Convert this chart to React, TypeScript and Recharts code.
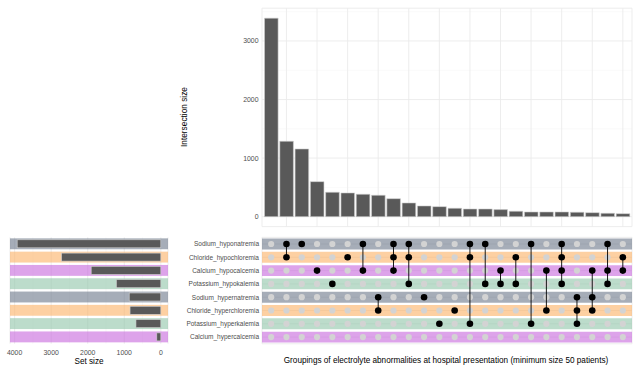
import React from 'react';
import {
  BarChart, Bar, XAxis, YAxis, CartesianGrid, ScatterChart, Scatter, ReferenceArea,
} from 'recharts';

// ---------- data ----------
const setNames = [
  'Sodium_hyponatremia',
  'Chloride_hypochloremia',
  'Calcium_hypocalcemia',
  'Potassium_hypokalemia',
  'Sodium_hypernatremia',
  'Chloride_hyperchloremia',
  'Potassium_hyperkalemia',
  'Calcium_hypercalcemia',
];
const setSizes = [3930, 2715, 1905, 1215, 865, 842, 680, 110];
const setColors = ['#6b7689', '#fcb164', '#c666dc', '#8fc5a8', '#6b7689', '#fcb164', '#8fc5a8', '#c666dc'];

const intersectionSizes = [3390, 1287, 1156, 598, 416, 405, 382, 365, 307, 234, 183, 171, 143, 131, 131, 120, 92, 80, 80, 80, 75, 68, 57, 51];
const intersectionMembers: string[][] = [
  [],
  ['Sodium_hyponatremia', 'Chloride_hypochloremia'],
  ['Sodium_hyponatremia'],
  ['Calcium_hypocalcemia'],
  ['Potassium_hypokalemia'],
  ['Chloride_hypochloremia'],
  ['Sodium_hyponatremia', 'Calcium_hypocalcemia'],
  ['Sodium_hypernatremia', 'Chloride_hyperchloremia'],
  ['Sodium_hyponatremia', 'Chloride_hypochloremia', 'Calcium_hypocalcemia'],
  ['Sodium_hyponatremia', 'Chloride_hypochloremia', 'Potassium_hypokalemia'],
  ['Sodium_hypernatremia'],
  ['Potassium_hyperkalemia'],
  ['Chloride_hyperchloremia'],
  ['Sodium_hyponatremia', 'Chloride_hypochloremia', 'Potassium_hyperkalemia'],
  ['Sodium_hyponatremia', 'Potassium_hypokalemia'],
  ['Calcium_hypocalcemia', 'Potassium_hypokalemia'],
  ['Chloride_hypochloremia', 'Potassium_hypokalemia'],
  ['Sodium_hyponatremia', 'Potassium_hyperkalemia'],
  ['Calcium_hypocalcemia', 'Chloride_hyperchloremia'],
  ['Sodium_hyponatremia', 'Chloride_hypochloremia', 'Calcium_hypocalcemia', 'Potassium_hypokalemia'],
  ['Sodium_hypernatremia', 'Chloride_hyperchloremia', 'Potassium_hyperkalemia'],
  ['Calcium_hypocalcemia', 'Sodium_hypernatremia', 'Chloride_hyperchloremia'],
  ['Sodium_hyponatremia', 'Calcium_hypocalcemia', 'Potassium_hypokalemia'],
  ['Chloride_hypochloremia', 'Calcium_hypocalcemia'],
];
const intersectionTicks = [0, 1000, 2000, 3000];
const intersectionMinorTicks = [500, 1500, 2500, 3500];
const setSizeTicks = [4000, 3000, 2000, 1000, 0];
const setSizeMinorTicks = [3500, 2500, 1500, 500];

const FONT = '"Liberation Sans", Arial, Helvetica, sans-serif';
const TICK_GREY = '#4d4d4d';

// ---------- derived tables ----------
const topData = intersectionSizes.map((v, i) => ({ id: 'I' + (i + 1), size: v }));
const setData = setNames.map((n, i) => ({ name: n, size: setSizes[i] }));
const colIdx = intersectionSizes.map((_, i) => i);
const rowIdx = setNames.map((_, i) => i);
const emptyCells: { x: number; y: number }[] = [];
colIdx.forEach((c) => {
  rowIdx.forEach((r) => {
    if (!intersectionMembers[c].includes(setNames[r])) emptyCells.push({ x: c, y: r });
  });
});
const memberCols = colIdx.map((c) =>
  intersectionMembers[c]
    .map((n) => setNames.indexOf(n))
    .sort((a, b) => a - b)
    .map((r) => ({ x: c, y: r }))
);

const GreyDot = (p: any) => <circle cx={p.cx} cy={p.cy} r={3.1} fill="#d3d3d3" />;
const BlackDot = (p: any) => <circle cx={p.cx} cy={p.cy} r={3.3} fill="#000000" />;

const SetBar = (p: any) => {
  const x = Math.min(p.x, p.x + p.width);
  const w = Math.abs(p.width);
  const h = 8;
  const y = Math.min(p.y, p.y + p.height) + (Math.abs(p.height) - h) / 2;
  return <rect x={x} y={y} width={w} height={h} fill="#595959" stroke="#cfcfcf" strokeWidth={0.6} />;
};
const SetBand = (p: any) => (
  <rect x={p.x} y={p.y} width={p.width} height={p.height} fill={setColors[p.index]} fillOpacity={0.6} />
);

export default function App() {
  return (
    <div style={{ position: 'absolute', left: 0, top: 0, width: 640, height: 373, background: '#fff', fontFamily: FONT }}>
      {/* Intersection size bars */}
      <div style={{ position: 'absolute', left: 0, top: 0 }}>
        <BarChart width={640} height={240} data={topData} margin={{ top: 8.2, right: 8, bottom: 13.4, left: 182 }}>
          <CartesianGrid stroke="#f4f4f4" strokeWidth={0.5} vertical={false} horizontalValues={intersectionMinorTicks} />
          <CartesianGrid stroke="#ebebeb" strokeWidth={0.9} />
          <XAxis dataKey="id" hide padding={{ left: 1.5, right: 1.5 }} />
          <YAxis
            type="number"
            domain={[-170, 3560]}
            allowDataOverflow
            ticks={intersectionTicks}
            width={80}
            axisLine={false}
            tickLine={false}
            tickSize={0}
            tickMargin={3.5}
            interval={0}
            tick={{ fontSize: 6.9, fill: TICK_GREY, fontFamily: FONT }}
            label={{
              content: (lp: any) => {
                const vb = lp.viewBox || {};
                const cy = 117;
                return (
                  <text x={187} y={cy} transform={`rotate(-90 187 ${cy})`} textAnchor="middle" fontSize={8.3} fill="#000" fontFamily={FONT}>
                    Intersection size
                  </text>
                );
              },
            }}
          />
          <Bar dataKey="size" fill="#595959" stroke="#cfcfcf" strokeWidth={0.6} barSize={13.6} isAnimationActive={false} />
        </BarChart>
      </div>

      {/* Set size bars */}
      <div style={{ position: 'absolute', left: 0, top: 230 }}>
        <BarChart layout="vertical" width={180} height={143} data={setData} margin={{ top: 7.35, right: 12, bottom: 9.25, left: 10 }}>
          <CartesianGrid stroke="#f4f4f4" strokeWidth={0.5} horizontal={false} verticalValues={setSizeMinorTicks} />
          <CartesianGrid stroke="#ebebeb" strokeWidth={0.9} horizontal={false} />
          <XAxis
            type="number"
            reversed
            domain={[-196.5, 4126.5]}
            allowDataOverflow
            ticks={setSizeTicks}
            height={20}
            axisLine={false}
            tickLine={false}
            tickSize={0}
            tickMargin={6.5}
            interval={0}
            tick={{ fontSize: 6.9, fill: TICK_GREY, fontFamily: FONT }}
            label={{
              content: () => (
                <text x={89} y={133.5} textAnchor="middle" fontSize={8.2} fill="#000" fontFamily={FONT}>
                  Set size
                </text>
              ),
            }}
          />
          <YAxis type="category" dataKey="name" hide />
          <Bar dataKey="size" barSize={10.9} background={SetBand} shape={SetBar} isAnimationActive={false} />
        </BarChart>
      </div>

      {/* Membership matrix */}
      <div style={{ position: 'absolute', left: 0, top: 230 }}>
        <ScatterChart width={640} height={143} margin={{ top: 7.35, right: 8, bottom: 9.25, left: 162 }}>
          <CartesianGrid stroke="#ebebeb" strokeWidth={0.9} />
          <XAxis
            type="number"
            dataKey="x"
            domain={[-0.6, 23.6]}
            allowDataOverflow
            ticks={colIdx}
            height={20}
            tick={false}
            axisLine={false}
            tickLine={false}
            label={{
              content: () => (
                <text x={446} y={133} textAnchor="middle" fontSize={8.2} fill="#000" fontFamily={FONT}>
                  Groupings of electrolyte abnormalities at hospital presentation (minimum size 50 patients)
                </text>
              ),
            }}
          />
          <YAxis
            type="number"
            dataKey="y"
            domain={[-0.5, 7.5]}
            allowDataOverflow
            reversed
            ticks={rowIdx}
            interval={0}
            width={100}
            axisLine={false}
            tickLine={false}
            tickSize={0}
            tickMargin={3}
            tickFormatter={(v: number) => setNames[v]}
            tick={{ fontSize: 6.5, fill: TICK_GREY, fontFamily: FONT }}
          />
          {rowIdx.map((r) => (
            <ReferenceArea
              key={'band' + r}
              x1={-0.6}
              x2={23.6}
              y1={r - 0.41}
              y2={r + 0.41}
              fill={setColors[r]}
              fillOpacity={0.6}
              stroke="none"
              ifOverflow="visible"
            />
          ))}
          <Scatter data={emptyCells} shape={GreyDot} isAnimationActive={false} />
          {memberCols.map((pts, c) =>
            pts.length > 0 ? (
              <Scatter
                key={'col' + c}
                data={pts}
                shape={BlackDot}
                line={pts.length > 1 ? { stroke: '#000', strokeWidth: 0.9 } : false}
                lineType="joint"
                isAnimationActive={false}
              />
            ) : null
          )}
        </ScatterChart>
      </div>
    </div>
  );
}
